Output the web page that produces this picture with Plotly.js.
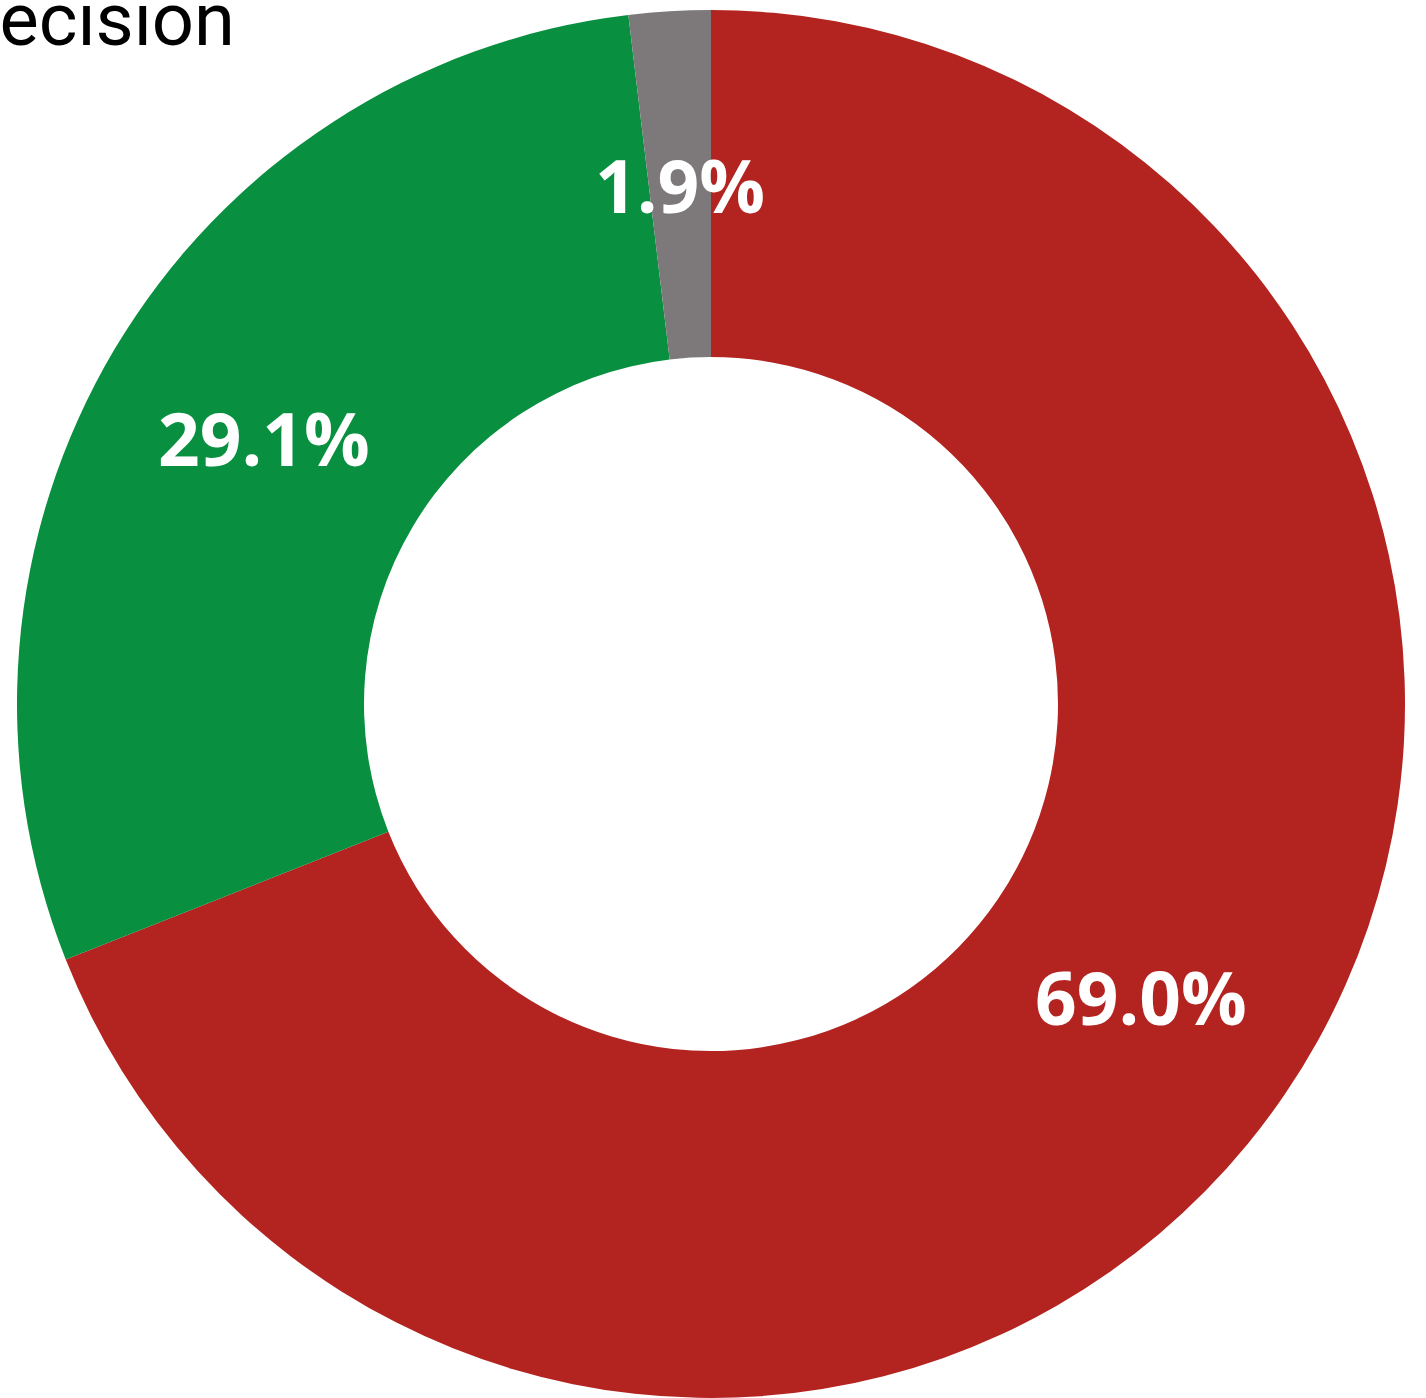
<!DOCTYPE html>
<html>
<head>
<meta charset="utf-8">
<script src="https://cdn.plot.ly/plotly-3.0.1.min.js"></script>
<style>html,body{margin:0;padding:0;background:#fff;}#chart{width:1426px;height:1398px;}</style>
</head>
<body>
<div id="chart"></div>
<script>
const titleText = "Decision";
const categories = ["Against", "In favour", "Undecided"];
const shares = [69.0, 29.1, 1.9];
const sliceColors = ["#B3231F", "#088F3F", "#7D797A"];

const W = 1426, H = 1398;
const cx = 711, cy = 704, R = 694, HOLE = 0.5;
const labelFont = {family: "Open Sans", size: 73, color: "#ffffff", weight: "bold"};

// Percent labels placed at the radial middle of each ring slice (derived from the data)
const total = shares.reduce((a, b) => a + b, 0);
let cum = 0;
const labelAnnotations = shares.map((v) => {
  const mid = (cum + v / 2) / total * 2 * Math.PI; // clockwise from top
  cum += v;
  const rMid = R * (1 + HOLE) / 2;
  const px = cx + rMid * Math.sin(mid);
  const py = cy - rMid * Math.cos(mid);
  return {
    text: (v / total * 100).toFixed(1) + "%",
    xref: "paper", yref: "paper",
    x: px / W, y: 1 - py / H,
    xanchor: "center", yanchor: "middle",
    showarrow: false,
    font: labelFont
  };
});

const data = [{
  type: "pie",
  labels: categories,
  values: shares,
  hole: HOLE,
  sort: false,
  direction: "clockwise",
  rotation: 0,
  marker: {colors: sliceColors, line: {width: 0}},
  textinfo: "none",
  hoverinfo: "label+percent",
  showlegend: false,
  domain: {x: [(cx - R) / W, (cx + R) / W], y: [(H - cy - R) / H, (H - cy + R) / H]}
}];

const layout = {
  width: W, height: H,
  margin: {l: 0, r: 0, t: 0, b: 0},
  paper_bgcolor: "#ffffff",
  showlegend: false,
  annotations: [{
    text: titleText,
    xref: "paper", yref: "paper",
    x: 237 / W, xanchor: "right",
    y: 1 - 65.5 / H, yanchor: "bottom",
    showarrow: false,
    font: {family: "Roboto", size: 74, color: "#000000"}
  }].concat(labelAnnotations)
};

Plotly.newPlot("chart", data, layout, {displayModeBar: false, staticPlot: true});
</script>
</body>
</html>
